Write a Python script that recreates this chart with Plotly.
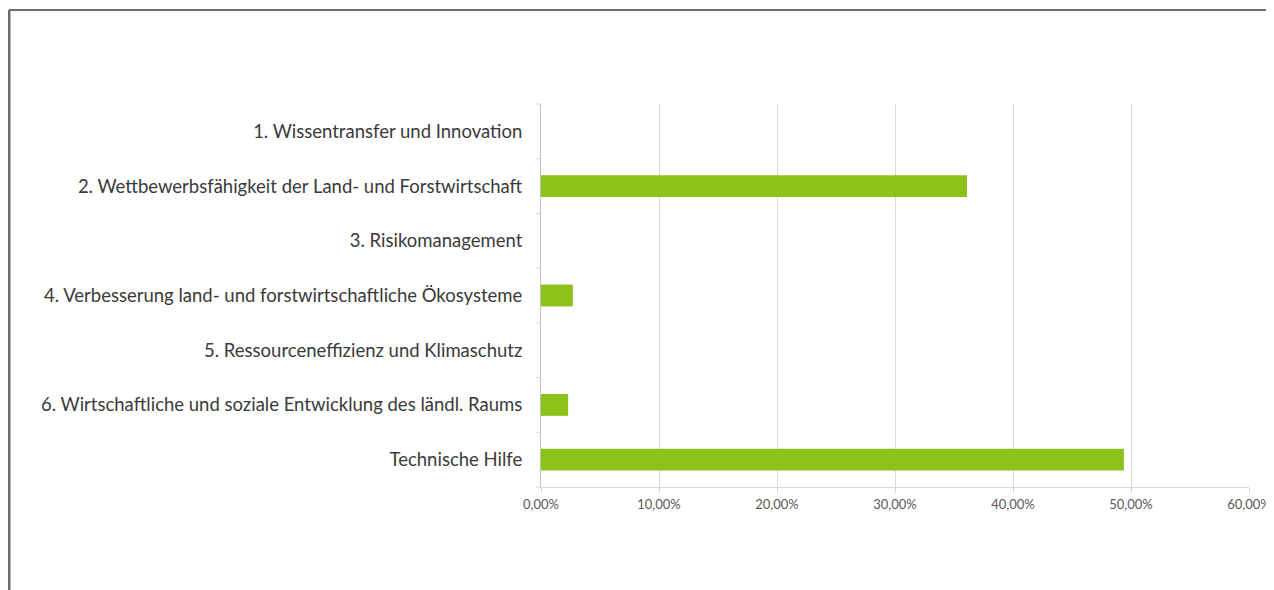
import plotly.graph_objects as go

categories = [
    "1. Wissentransfer und Innovation",
    "2. Wettbewerbsfähigkeit der Land- und Forstwirtschaft",
    "3. Risikomanagement",
    "4. Verbesserung land- und forstwirtschaftliche Ökosysteme",
    "5. Ressourceneffizienz und Klimaschutz",
    "6. Wirtschaftliche und soziale Entwicklung des ländl. Raums",
    "Technische Hilfe",
]
values = [0.0, 0.361, 0.0, 0.027, 0.0, 0.023, 0.494]
tick_vals = [0, 0.1, 0.2, 0.3, 0.4, 0.5, 0.6]
tick_text = ["0,00%", "10,00%", "20,00%", "30,00%", "40,00%", "50,00%", "60,00%"]

# page has an 8px body margin, so work in figure coordinates (screen - 8)
W, H = 1266, 582
L, R, T, B = 533, 1241, 96, 479

fig = go.Figure(go.Bar(
    x=values, y=categories, orientation="h",
    marker=dict(color="#8DC21A", line=dict(width=0)),
    width=0.4,
))

fig.update_layout(
    width=W, height=H,
    margin=dict(l=L, r=W - R, t=T, b=H - B, autoexpand=False),
    paper_bgcolor="white", plot_bgcolor="white",
    showlegend=False,
    font=dict(family="Lato, Open Sans, sans-serif", color="#404040"),
)
fig.update_xaxes(
    range=[0, 0.6], tickvals=tick_vals, ticktext=tick_text,
    showgrid=True, gridcolor="#D9D9D9", gridwidth=1,
    showline=True, linecolor="#D9D9D9", linewidth=1,
    ticks="outside", ticklen=5, tickcolor="#D9D9D9",
    tickfont=dict(size=13, color="#595959"),
    zeroline=False, fixedrange=True,
)
fig.update_yaxes(
    autorange=False, range=[6.5, -0.5],
    categoryorder="array", categoryarray=categories,
    showline=True, linecolor="#BFBFBF", linewidth=1,
    ticks="", ticklabelstandoff=14,
    tickfont=dict(size=18.5, color="#3A3A3A"),
    showgrid=False, zeroline=False,
)
# category separator tick marks on the y-axis
for i in range(len(categories) + 1):
    fig.add_shape(type="line", xref="paper", yref="paper",
                  x0=-5 / (R - L), x1=0, y0=i / len(categories), y1=i / len(categories),
                  line=dict(color="#D9D9D9", width=1))

# outer frame
pw, ph = R - L, B - T
fx, fy = 1, 2
fig.add_shape(type="line", xref="paper", yref="paper",
              x0=(fx - L) / pw, x1=(fx - L) / pw, y0=(B - fy) / ph, y1=(B - H - 5) / ph,
              line=dict(color="#6E6E6A", width=3))
fig.add_shape(type="line", xref="paper", yref="paper",
              x0=(fx - L) / pw, x1=(W + 5 - L) / pw, y0=(B - fy) / ph, y1=(B - fy) / ph,
              line=dict(color="#6E6E6A", width=2))

fig.write_html("out.html")
